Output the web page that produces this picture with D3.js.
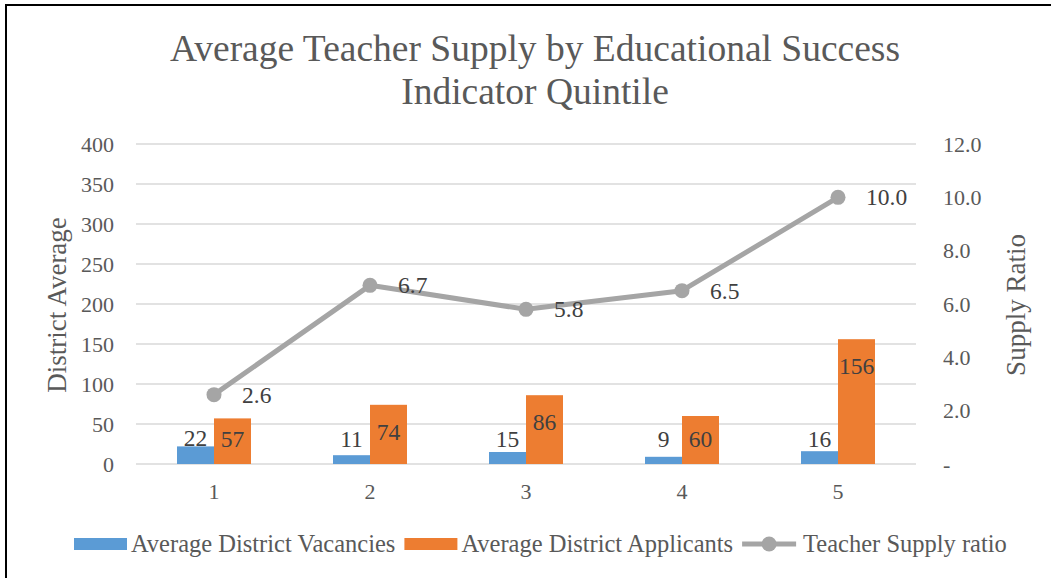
<!DOCTYPE html>
<html lang="en">
<head>
<meta charset="UTF-8">
<title>Average Teacher Supply by Educational Success Indicator Quintile</title>
<script src="https://d3js.org/d3.v7.min.js"></script>
<style>
  body { margin: 0; background: #fff; }
  svg text { font-family: "Liberation Serif", "DejaVu Serif", serif; }
</style>
</head>
<body>
<svg width="1051" height="578"></svg>
<script>
// data
var quintiles = ["1", "2", "3", "4", "5"];
var vacancies = [22, 11, 15, 9, 16];
var applicants = [57, 74, 86, 60, 156];
var supplyRatio = [2.6, 6.7, 5.8, 6.5, 10.0];
var leftTicks = [0, 50, 100, 150, 200, 250, 300, 350, 400];
var rightTicks = [0, 2, 4, 6, 8, 10, 12];
var seriesNames = ["Average District Vacancies", "Average District Applicants", "Teacher Supply ratio"];

var blue = "#5b9bd5", orange = "#ed7d31", grey = "#a5a5a5";
var tickColor = "#595959", labelColor = "#404040";
var serif = "'Liberation Serif', 'DejaVu Serif', serif";

var margin = {top: 144, left: 136};
var width = 780, height = 320;

var svg = d3.select("svg");

// chart border (only left and top edges fall inside the frame)
svg.append("rect")
  .attr("x", 6).attr("y", 5)
  .attr("width", 1060).attr("height", 600)
  .attr("fill", "none")
  .attr("stroke", "#000")
  .attr("stroke-width", 2);

// title
var title = svg.append("text")
  .attr("text-anchor", "middle")
  .attr("fill", tickColor)
  .style("font-family", serif)
  .style("font-size", "37.5px");
title.append("tspan").attr("x", 535).attr("y", 61).text("Average Teacher Supply by Educational Success");
title.append("tspan").attr("x", 535).attr("y", 104).text("Indicator Quintile");

var g = svg.append("g")
  .attr("transform", "translate(" + margin.left + "," + margin.top + ")");

var x = d3.scaleBand().domain(quintiles).range([0, width]);
var xInner = d3.scaleBand().domain([0, 1]).range([x.bandwidth() / 2 - 37, x.bandwidth() / 2 + 37]);
var yLeft = d3.scaleLinear().domain([0, 400]).range([height, 0]);
var yRight = d3.scaleLinear().domain([0, 12]).range([height, 0]);

// gridlines
g.selectAll(".grid")
  .data(leftTicks)
  .enter()
  .append("line")
  .attr("x1", 0).attr("x2", width)
  .attr("y1", function(d) { return yLeft(d); })
  .attr("y2", function(d) { return yLeft(d); })
  .attr("stroke", "#d9d9d9")
  .attr("stroke-width", 1.5);

function styleAxis(sel) {
  sel.select(".domain").remove();
  sel.selectAll("text")
    .attr("fill", tickColor)
    .style("font-size", "22px")
    .style("font-family", serif);
}

// left axis
g.append("g")
  .call(d3.axisLeft(yLeft).tickValues(leftTicks).tickSize(0).tickPadding(22))
  .call(styleAxis);

// right axis
g.append("g")
  .attr("transform", "translate(" + width + ",0)")
  .call(d3.axisRight(yRight).tickValues(rightTicks).tickSize(0).tickPadding(27)
    .tickFormat(function(d) { return d === 0 ? "-" : d.toFixed(1); }))
  .call(styleAxis);

// x axis
g.append("g")
  .attr("transform", "translate(0," + height + ")")
  .call(d3.axisBottom(x).tickSize(0).tickPadding(19))
  .call(styleAxis);

// axis titles
svg.append("text")
  .attr("transform", "translate(66,305) rotate(-90)")
  .attr("text-anchor", "middle")
  .attr("fill", tickColor)
  .style("font-family", serif)
  .style("font-size", "27px")
  .text("District Average");

svg.append("text")
  .attr("transform", "translate(1025,305) rotate(-90)")
  .attr("text-anchor", "middle")
  .attr("fill", tickColor)
  .style("font-family", serif)
  .style("font-size", "27px")
  .text("Supply Ratio");

// bars
var bars = [vacancies, applicants];
var barColors = [blue, orange];

bars.forEach(function(values, s) {
  g.selectAll(".bar" + s)
    .data(values)
    .enter()
    .append("rect")
    .attr("x", function(d, i) { return x(quintiles[i]) + xInner(s); })
    .attr("y", function(d) { return yLeft(d); })
    .attr("width", xInner.bandwidth())
    .attr("height", function(d) { return height - yLeft(d); })
    .attr("fill", barColors[s]);

  g.selectAll(".barlabel" + s)
    .data(values)
    .enter()
    .append("text")
    .attr("x", function(d, i) { return x(quintiles[i]) + xInner(s) + xInner.bandwidth() / 2; })
    .attr("y", function(d) {
      var top = yLeft(d);
      return s === 0 ? Math.min(top, height - 17) : Math.min(top + 35, height - 17);
    })
    .attr("text-anchor", "middle")
    .attr("fill", labelColor)
    .style("font-family", serif)
    .style("font-size", "23.5px")
    .text(function(d) { return d; });
});

// supply ratio line
var line = d3.line()
  .x(function(d, i) { return x(quintiles[i]) + x.bandwidth() / 2; })
  .y(function(d) { return yRight(d); });

g.append("path")
  .datum(supplyRatio)
  .attr("fill", "none")
  .attr("stroke", grey)
  .attr("stroke-width", 5)
  .attr("stroke-linejoin", "round")
  .attr("d", line);

g.selectAll(".dot")
  .data(supplyRatio)
  .enter()
  .append("circle")
  .attr("cx", function(d, i) { return x(quintiles[i]) + x.bandwidth() / 2; })
  .attr("cy", function(d) { return yRight(d); })
  .attr("r", 7.5)
  .attr("fill", grey);

g.selectAll(".ratiolabel")
  .data(supplyRatio)
  .enter()
  .append("text")
  .attr("x", function(d, i) { return x(quintiles[i]) + x.bandwidth() / 2 + 28; })
  .attr("y", function(d) { return yRight(d) + 8; })
  .attr("fill", labelColor)
  .style("font-family", serif)
  .style("font-size", "23.5px")
  .text(function(d) { return d.toFixed(1); });

// legend
var legendX = 74, legendY = 544;
seriesNames.forEach(function(name, i) {
  var item = svg.append("g").attr("transform", "translate(" + legendX + "," + legendY + ")");
  if (i < 2) {
    item.append("rect")
      .attr("x", 0).attr("y", -6)
      .attr("width", 53).attr("height", 12)
      .attr("fill", barColors[i]);
  } else {
    item.append("line")
      .attr("x1", 0).attr("x2", 54)
      .attr("y1", 0).attr("y2", 0)
      .attr("stroke", grey)
      .attr("stroke-width", 5);
    item.append("circle")
      .attr("cx", 27).attr("cy", 0).attr("r", 7.5)
      .attr("fill", grey);
  }
  var t = item.append("text")
    .attr("x", i < 2 ? 57 : 61)
    .attr("y", 8)
    .attr("fill", tickColor)
    .style("font-family", serif)
    .style("font-size", "24.5px")
    .text(name);
  legendX += (i < 2 ? 57 : 61) + t.node().getComputedTextLength() + 9;
});
</script>
</body>
</html>
